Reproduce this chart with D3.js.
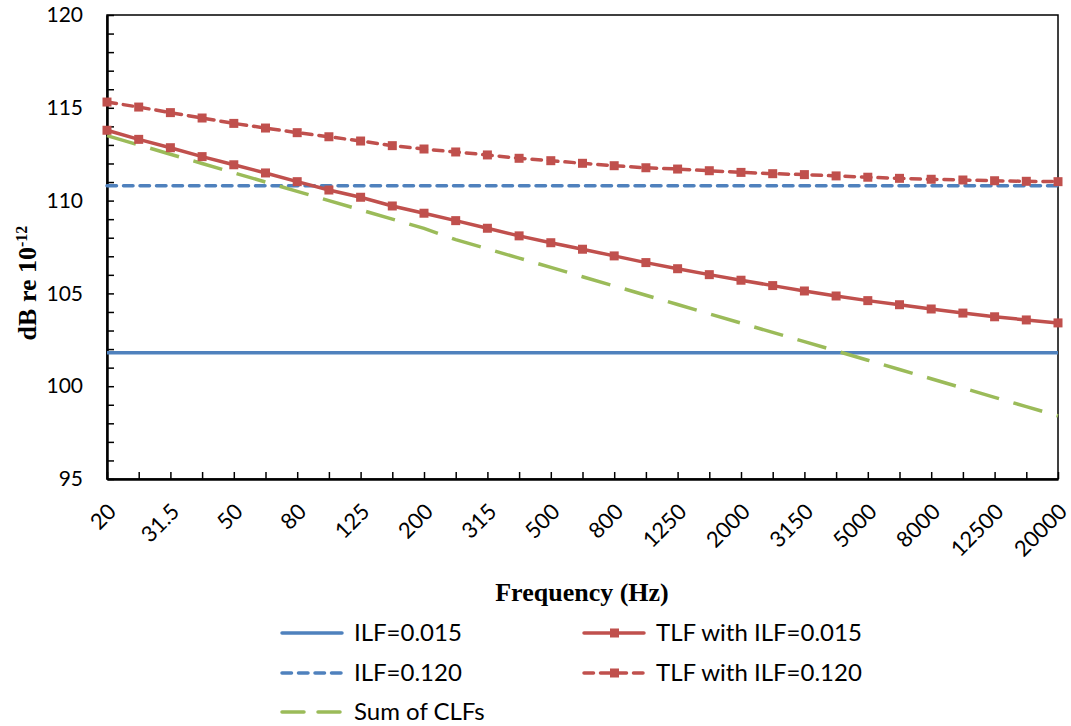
<!DOCTYPE html>
<html>
<head>
<meta charset="utf-8">
<script src="https://cdnjs.cloudflare.com/ajax/libs/d3/7.8.5/d3.min.js"></script>
<style>
    body { margin: 0; background: #fff; }
    .tick text { font-family: Lato, "Open Sans", sans-serif; font-size: 21px; fill: #000; }
    .xLabels .tick text { font-size: 22px; }
    .legendText { font-family: Lato, "Open Sans", sans-serif; font-size: 24px; fill: #000; }
    .axisTitle { font-family: "Liberation Serif", "DejaVu Serif", serif; font-weight: bold; font-size: 26px; fill: #000; }
</style>
</head>
<body>
<div id="vis"></div>
<script>
// one-third octave bands (Hz)
var freqs = ['20','25','31.5','40','50','63','80','100','125','160','200','250','315','400','500','630',
             '800','1000','1250','1600','2000','2500','3150','4000','5000','6300','8000','10000','12500','16000','20000'];

var ilf015 = freqs.map(() => 101.8);
var ilf120 = freqs.map(() => 110.8);

var tlf015 = [113.79, 113.30, 112.85, 112.37, 111.93, 111.49, 111.02, 110.57, 110.18, 109.71, 109.32,
              108.92, 108.51, 108.10, 107.73, 107.38, 107.02, 106.66, 106.33, 106.01, 105.71,
              105.42, 105.13, 104.86, 104.61, 104.39, 104.16, 103.94, 103.74, 103.57, 103.41];

var tlf120 = [115.31, 115.04, 114.74, 114.45, 114.16, 113.91, 113.66, 113.44, 113.21, 112.96, 112.78,
              112.62, 112.46, 112.28, 112.15, 112.01, 111.88, 111.77, 111.70, 111.61, 111.52,
              111.45, 111.40, 111.33, 111.26, 111.20, 111.15, 111.11, 111.07, 111.04, 111.02];

var sumClf = [113.5, 113.0, 112.5, 112.0, 111.5, 111.0, 110.5, 110.0, 109.5, 109.0, 108.5,
              107.9, 107.4, 106.9, 106.4, 105.9, 105.4, 104.9, 104.4, 103.9, 103.4,
              102.9, 102.4, 101.9, 101.4, 100.9, 100.4, 99.9, 99.4, 98.9, 98.4];

var yTicks = d3.range(95, 121, 1);

var width = 1071;
var height = 726;
var margin = { left: 107, right: 13, top: 15, bottom: 247 };

var blue = '#4F81BD';
var red = '#C0504D';
var green = '#9BBB59';

var series = [
    { name: 'ILF=0.015', values: ilf015, color: blue, dash: null, marker: false },
    { name: 'ILF=0.120', values: ilf120, color: blue, dash: '9.5,7', marker: false, cap: 'round' },
    { name: 'Sum of CLFs', values: sumClf, color: green, dash: '30,15', marker: false },
    { name: 'TLF with ILF=0.015', values: tlf015, color: red, dash: null, marker: true },
    { name: 'TLF with ILF=0.120', values: tlf120, color: red, dash: '9.5,7', marker: true, cap: 'round' }
];

var svg = d3.select('#vis')
    .append('svg')
    .attr('width', width)
    .attr('height', height);

var x = d3.scalePoint()
    .domain(freqs)
    .range([margin.left, width - margin.right]);

var y = d3.scaleLinear()
    .domain([95, 120])
    .range([height - margin.bottom, margin.top]);

// frame (top and right edges)
svg.append('rect')
    .attr('x', margin.left)
    .attr('y', margin.top)
    .attr('width', width - margin.right - margin.left)
    .attr('height', height - margin.bottom - margin.top)
    .attr('fill', 'none')
    .attr('stroke', '#000')
    .attr('stroke-width', 1.5);

var xAxis = svg.append('g')
    .attr('class', 'xLabels')
    .attr('transform', 'translate(0,' + (height - margin.bottom) + ')')
    .call(d3.axisBottom(x)
        .tickSizeInner(-7)
        .tickSizeOuter(0)
        .tickFormat((d, i) => i % 2 === 0 ? d : ''));
xAxis.select('.domain').attr('stroke-width', 2.5);
xAxis.selectAll('.tick line').attr('stroke-width', 1.5);
xAxis.selectAll('.tick text')
    .attr('text-anchor', 'end')
    .attr('x', 0)
    .attr('y', 0)
    .attr('dy', 0)
    .attr('transform', 'translate(10,34) rotate(-45)');

var yAxis = svg.append('g')
    .attr('transform', 'translate(' + margin.left + ',0)')
    .call(d3.axisLeft(y)
        .tickValues(yTicks)
        .tickSizeInner(-7)
        .tickSizeOuter(0)
        .tickPadding(24)
        .tickFormat((d) => d % 5 === 0 ? d : ''));
yAxis.select('.domain').attr('stroke-width', 2.5);
yAxis.selectAll('.tick line').attr('stroke-width', 1.5);

// lines
var line = d3.line()
    .x((d, i) => x(freqs[i]))
    .y((d) => y(d));

series.forEach(function (s) {
    svg.append('path')
        .datum(s.values)
        .attr('d', line)
        .attr('fill', 'none')
        .attr('stroke', s.color)
        .attr('stroke-width', 3.5)
        .attr('stroke-linecap', s.cap || 'butt')
        .attr('stroke-dasharray', s.dash);
    if (s.marker) {
        svg.append('g').selectAll('rect')
            .data(s.values)
            .enter()
            .append('rect')
            .attr('x', (d, i) => x(freqs[i]) - 4.5)
            .attr('y', (d) => y(d) - 4.5)
            .attr('width', 9)
            .attr('height', 9)
            .attr('fill', s.color);
    }
});

// axis titles
svg.append('text')
    .attr('class', 'axisTitle')
    .attr('x', 582)
    .attr('y', 601)
    .attr('text-anchor', 'middle')
    .text('Frequency (Hz)');

var yTitle = svg.append('text')
    .attr('class', 'axisTitle')
    .attr('font-size', 25)
    .attr('transform', 'translate(36,283) rotate(-90)')
    .attr('text-anchor', 'middle');
yTitle.append('tspan').text('dB re 10');
yTitle.append('tspan').attr('dy', -9).attr('font-size', 16).text('-12');

// legend
var legendItems = [
    { s: series[0], x: 280, y: 633 },
    { s: series[1], x: 280, y: 673 },
    { s: series[2], x: 280, y: 712 },
    { s: series[3], x: 582, y: 633 },
    { s: series[4], x: 582, y: 673 }
];

var legend = svg.append('g');
legendItems.forEach(function (it) {
    var g = legend.append('g').attr('transform', 'translate(' + it.x + ',' + it.y + ')');
    g.append('line')
        .attr('x1', 2).attr('x2', 62)
        .attr('stroke', it.s.color)
        .attr('stroke-width', 3.5)
        .attr('stroke-linecap', it.s.cap || 'round')
        .attr('stroke-dasharray', it.s.dash === '30,15' ? '22,14' : it.s.dash);
    if (it.s.marker) {
        g.append('rect')
            .attr('x', 28).attr('y', -4.5)
            .attr('width', 9).attr('height', 9)
            .attr('fill', it.s.color);
    }
    g.append('text')
        .attr('class', 'legendText')
        .attr('x', 74)
        .attr('dy', '0.35em')
        .text(it.s.name);
});
</script>
</body>
</html>
